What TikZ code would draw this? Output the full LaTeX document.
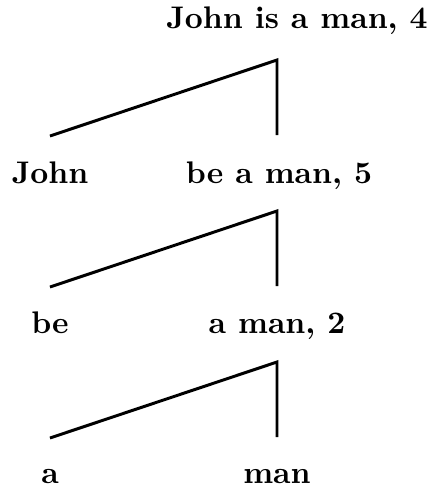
\documentclass[tikz,border=0pt]{standalone}
\usepackage{tikz}

\tikzset{
  word/.style={anchor=base, inner sep=0pt, font=\bfseries},
  branch/.style={line width=0.95pt, line join=miter}
}

\begin{document}
\begin{tikzpicture}[x=0.32pt,y=-0.32pt]
  \def\xl{50}
  \def\xr{277}
  \def\d{76}
  \useasboundingbox (0,0) rectangle (433,491);

  %Labels
  \node[word] (root) at (297,28) {John is a man, 4};
  \node[word] (john) at (\xl,183) {John};
  \node[word] (bam) at (279,183) {be a man, 5};
  \node[word] (be) at (\xl,333) {be};
  \node[word] (am) at (\xr,333) {a man, 2};
  \node[word] (a) at (\xl,483) {a};
  \node[word] (man) at (\xr,483) {man};

  %Branches
  \foreach \i/\y in {1/60,2/211,3/362}
  {
    \coordinate (top\i) at (\xr,\y);
    \coordinate (left\i) at (\xl,\y+\d);
    \coordinate (right\i) at (\xr,\y+\d-1);
    \draw[branch] (left\i) -- (top\i) -- (right\i);
  }
\end{tikzpicture}
\end{document}
